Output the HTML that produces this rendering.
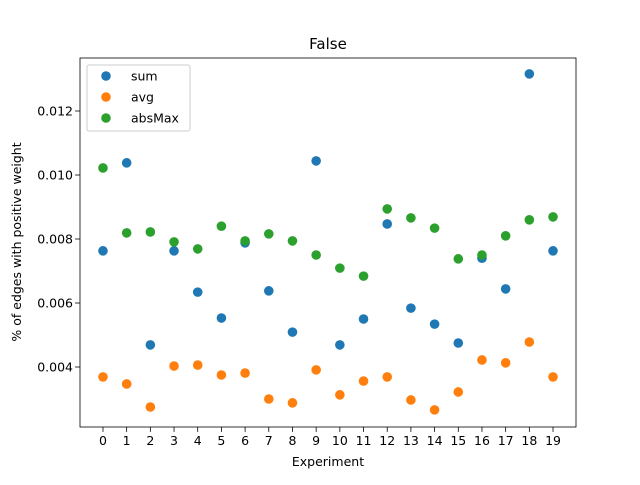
<!DOCTYPE html>
<html><head><meta charset="utf-8"><style>
body{margin:0;background:#fff;}
text{font-family:"DejaVu Sans","Liberation Sans",sans-serif;fill:#000;}
</style></head><body>
<svg id="chart" width="640" height="480" xmlns="http://www.w3.org/2000/svg"></svg>
<script>
const categories=[0,1,2,3,4,5,6,7,8,9,10,11,12,13,14,15,16,17,18,19];
const sumValues=[0.00763,0.01038,0.00469,0.00763,0.00634,0.00553,0.00788,0.00638,0.00509,0.01044,0.00469,0.0055,0.00847,0.00584,0.00534,0.00475,0.0074,0.00644,0.01316,0.00763];
const avgValues=[0.00369,0.00347,0.00275,0.00403,0.00406,0.00375,0.00381,0.003,0.00288,0.00391,0.00313,0.00356,0.00369,0.00297,0.00266,0.00322,0.00422,0.00413,0.00478,0.00369];
const absMaxValues=[0.01022,0.00819,0.00822,0.00791,0.00769,0.0084,0.00794,0.00816,0.00794,0.0075,0.00709,0.00684,0.00894,0.00866,0.00834,0.00738,0.0075,0.0081,0.0086,0.00869];
const yTicks=[0.004,0.006,0.008,0.010,0.012];
const yTickLabels=["0.004","0.006","0.008","0.010","0.012"];
const seriesNames=["sum","avg","absMax"];
const seriesColors=["#1f77b4","#ff7f0e","#2ca02c"];

const svg=document.getElementById('chart');
const NS="http://www.w3.org/2000/svg";
const L=80,R=576,T=58,B=427;
const xMin=-0.97,xMax=19.97,yMin=0.002125,yMax=0.013656;
function xs(v){return L+(v-xMin)/(xMax-xMin)*(R-L);}
function ys(v){return B-(v-yMin)/(yMax-yMin)*(B-T);}
function mk(tag,attrs,txt){const e=document.createElementNS(NS,tag);for(const k in attrs)e.setAttribute(k,attrs[k]);if(txt!==undefined)e.textContent=txt;svg.appendChild(e);return e;}

let t=mk('text',{x:328,y:49,'text-anchor':'middle','font-size':15},'False');



const series=[sumValues,avgValues,absMaxValues];
series.forEach((vals,si)=>{
  vals.forEach((v,i)=>{
    const c=mk('circle',{cx:xs(categories[i]),cy:ys(v),r:4.8,fill:seriesColors[si]});
    
    
  });
});

let f=mk('rect',{x:L,y:T,width:R-L,height:B-T,fill:'none',stroke:'#000','stroke-width':0.8});



categories.forEach(c=>{
  const x=xs(c);
  mk('line',{x1:x,x2:x,y1:B,y2:B+4.9,stroke:'#000','stroke-width':0.8});
  const l=mk('text',{x:x,y:B+18,'text-anchor':'middle','font-size':12.5},String(c));
  
  
});
yTicks.forEach((v,i)=>{
  const y=ys(v);
  mk('line',{x1:L-4.9,x2:L,y1:y,y2:y,stroke:'#000','stroke-width':0.8});
  const l=mk('text',{x:L-7,y:y+4.5,'text-anchor':'end','font-size':12.5},yTickLabels[i]);
  
  
});
let xt=mk('text',{x:328,y:466,'text-anchor':'middle','font-size':12.5},'Experiment');


let yt=mk('text',{x:21,y:242,'text-anchor':'middle','font-size':12.5,transform:'rotate(-90 21 242)'},'% of edges with positive weight');



let lg=mk('rect',{x:87,y:65,width:103,height:66,fill:'#fff','fill-opacity':0.8,stroke:'#ccc',rx:2});


seriesNames.forEach((n,i)=>{
  const y=76+i*21;
  const c=mk('circle',{cx:106,cy:y,r:4.8,fill:seriesColors[i]});
  
  
  const l=mk('text',{x:131,y:y+4.5,'font-size':12.5},n);
  
  
});
</script>
</body></html>
